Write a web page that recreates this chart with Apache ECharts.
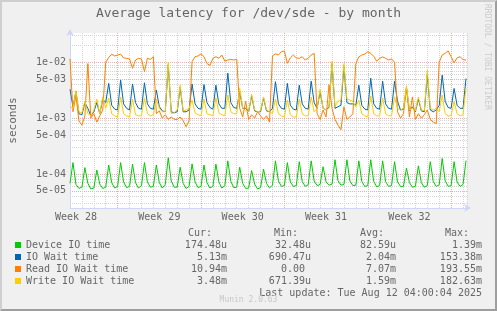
<!DOCTYPE html>
<html>
<head>
<meta charset="utf-8">
<script src="https://cdn.jsdelivr.net/npm/echarts/dist/echarts.min.js"></script>
<style>
  html, body { margin: 0; padding: 0; background: #F0F0F0; }
  #wrap { position: relative; width: 497px; height: 311px; }
  #chart { width: 497px; height: 311px; }
  #frame {
    position: absolute; left: 0; top: 0; width: 497px; height: 311px;
    box-sizing: border-box; border: 2px solid;
    border-color: #CFCFCF #9E9E9E #9E9E9E #CFCFCF; pointer-events: none;
  }
</style>
</head>
<body>
<div id="wrap"><div id="chart"></div><div id="frame"></div></div>
<script>
// one sample every 6 hours, x counted in days from the left edge of the plot
const stepDays = 0.25;
const spanDays = 400 / 12;

const weekLabels = ['Week 28', 'Week 29', 'Week 30', 'Week 31', 'Week 32'];
const weekLabelAt = [0.5, 7.5, 14.5, 21.5, 28.5];
const weekStarts = [4, 11, 18, 25, 32];

const yMin = 2.46e-5;
const yMax = 0.0335;
const yMajor = [5e-5, 1e-4, 5e-4, 1e-3, 5e-3, 1e-2];
const yMinor = [3e-5, 4e-5, 6e-5, 7e-5, 8e-5, 9e-5, 2e-4, 3e-4, 4e-4, 6e-4, 7e-4, 8e-4, 9e-4,
  2e-3, 3e-3, 4e-3, 6e-3, 7e-3, 8e-3, 9e-3, 2e-2, 3e-2];

const seriesNames = ['Device IO time', 'IO Wait time', 'Read IO Wait time', 'Write IO Wait time'];
const seriesColors = ['#00CC00', '#0066B3', '#FF8000', '#FFCC00'];

// legend table
const curText = ['174.48u', '5.13m', '10.94m', '3.48m'];
const minText = ['32.48u', '690.47u', '0.00', '671.39u'];
const avgText = ['82.59u', '2.04m', '7.07m', '1.59m'];
const maxText = ['1.39m', '153.38m', '193.55m', '182.63m'];

// Device IO time (s), 4 samples a day
const deviceIO = [
  6.8e-5, 1.6e-4, 6.5e-5, 5.5e-5,   5.8e-5, 1.3e-4, 6.8e-5, 5.4e-5,   5.6e-5, 1.18e-4, 6.6e-5, 5.5e-5,
  5.8e-5, 1.45e-4, 7e-5, 5.6e-5,    6e-5, 1.6e-4, 7.2e-5, 5.7e-5,     6e-5, 1.5e-4, 7e-5, 5.6e-5,
  6.2e-5, 1.6e-4, 7.2e-5, 5.8e-5,   6e-5, 1.45e-4, 7e-5, 5.6e-5,      6.5e-5, 1.95e-4, 7.5e-5, 5.8e-5,
  5.8e-5, 1.32e-4, 6.8e-5, 5.5e-5,  6e-5, 1.52e-4, 7.2e-5, 5.7e-5,    6e-5, 1.45e-4, 7e-5, 5.6e-5,
  6e-5, 1.5e-4, 7.2e-5, 5.6e-5,     6.2e-5, 1.72e-4, 7.4e-5, 5.7e-5,  5.8e-5, 1.32e-4, 6.8e-5, 5.5e-5,
  5.6e-5, 1.15e-4, 6.6e-5, 5.4e-5,  5.7e-5, 1.22e-4, 6.8e-5, 5.6e-5,  6.3e-5, 1.72e-4, 7.5e-5, 6e-5,
  6.2e-5, 1.6e-4, 7.2e-5, 6e-5,     6.2e-5, 1.66e-4, 7.3e-5, 6e-5,    6.4e-5, 1.72e-4, 7.5e-5, 6.2e-5,
  6.5e-5, 1.35e-4, 7.2e-5, 6.3e-5,  6.6e-5, 1.8e-4, 7.6e-5, 6.3e-5,   6.5e-5, 1.8e-4, 7.5e-5, 6.2e-5,
  6.3e-5, 1.72e-4, 7.4e-5, 6e-5,    6.2e-5, 1.8e-4, 7.4e-5, 5.9e-5,   6.2e-5, 1.72e-4, 7.3e-5, 6e-5,
  6.2e-5, 1.66e-4, 7.2e-5, 6e-5,    6e-5, 1.27e-4, 7e-5, 5.8e-5,      6e-5, 1.4e-4, 7e-5, 5.8e-5,
  6.2e-5, 1.66e-4, 7.3e-5, 6e-5,    6.4e-5, 1.9e-4, 7.6e-5, 6e-5,     6.2e-5, 1.66e-4, 7.2e-5, 6e-5,
  6.5e-5, 1.74e-4
];

// IO Wait time (s)
const ioWait = [
  3.3e-3,
  1.6e-3, 3.0e-3, 1.2e-3, 1.15e-3, 1.9e-3, 1.5e-3, 1.1e-3, 1.3e-3, 1.9e-3, 1.2e-3, 2.2e-3,
  1.9e-3, 4.2e-3, 1.7e-3, 1.45e-3, 1.4e-3, 4.8e-3, 1.8e-3, 1.5e-3, 1.4e-3, 4.1e-3, 1.9e-3, 1.5e-3,
  1.45e-3, 4.3e-3, 1.8e-3, 1.5e-3, 1.45e-3,
  3.2e-3, 1.6e-3, 1.35e-3, 1.3e-3, 9e-3, 1.3e-3, 1.25e-3, 1.3e-3, 3.6e-3, 1.3e-3, 1.3e-3, 1.4e-3,
  4.1e-3, 1.8e-3, 1.5e-3, 1.45e-3, 4.0e-3, 1.9e-3, 1.55e-3, 1.45e-3, 3.9e-3, 1.8e-3, 1.5e-3, 1.5e-3,
  6.4e-3, 1.9e-3, 1.55e-3, 1.5e-3,
  3.0e-3, 1.5e-3, 1.5e-3, 1.3e-3, 2.5e-3, 1.35e-3, 1.3e-3, 1.3e-3, 2.3e-3, 1.35e-3, 1.3e-3,
  1.5e-3, 4.5e-3, 1.8e-3, 1.5e-3, 1.45e-3, 4.2e-3, 1.7e-3, 1.45e-3, 1.4e-3, 3.9e-3, 1.8e-3, 1.5e-3,
  1.45e-3, 4.6e-3, 1.9e-3,
  1.5e-3, 3.0e-3, 1.5e-3, 1.4e-3, 1.6e-3, 9.5e-3, 1.5e-3, 1.6e-3, 1.7e-3, 8.5e-3, 1.9e-3, 1.8e-3, 1.8e-3,
  1.7e-3, 3.9e-3, 1.7e-3, 1.45e-3, 1.4e-3, 5.2e-3, 1.8e-3, 1.5e-3, 1.45e-3, 4.6e-3, 1.8e-3, 1.5e-3,
  1.45e-3, 4.6e-3,
  2.0e-3, 1.4e-3, 1.45e-3, 3.5e-3, 1.35e-3, 1.6e-3, 1.3e-3, 2.2e-3, 1.35e-3, 1.3e-3, 6.0e-3, 1.4e-3,
  1.3e-3, 1.4e-3,
  1.7e-3, 5.9e-3, 2.0e-3, 1.55e-3, 1.5e-3, 3.4e-3, 1.7e-3, 1.5e-3, 1.5e-3, 5.13e-3
];

// Read IO Wait time (s)
const readWait = [
  1.15e-2,
  1.3e-3, 2.5e-3, 9e-4, 7.5e-4, 1.1e-3, 9.5e-3, 1.0e-3, 1.2e-3, 8.5e-4, 1.1e-3, 1.4e-3,
  1.0e-2, 1.22e-2, 1.4e-2, 1.3e-2, 1.35e-2, 1.4e-2, 1.2e-2, 1.18e-2, 1.15e-2, 7.8e-3, 1.1e-2, 1.18e-2,
  1.15e-2, 6.8e-3, 1.18e-2, 1.13e-2, 1.26e-2,
  1.2e-3, 1.35e-3, 1.0e-3, 1.15e-3, 9.5e-4, 1.05e-3, 9.5e-4, 9.5e-4, 1.05e-3, 9e-4, 7e-4, 9e-4,
  1.03e-2, 1.26e-2, 1.3e-2, 1.42e-2, 1.26e-2, 9.5e-3, 8.8e-3, 1.18e-2, 1.26e-2, 1.18e-2, 1.35e-2, 1.05e-2,
  1.1e-2, 1.13e-2, 1.1e-2, 1.13e-2,
  1.5e-3, 1.05e-3, 2.0e-3, 9.5e-4, 1.15e-3, 1.0e-3, 1.3e-3, 1.1e-3, 9.5e-4, 1.1e-3, 8.5e-4,
  1.3e-2, 1.42e-2, 1.35e-2, 1.55e-2, 1.6e-2, 9.6e-3, 1.2e-2, 1.35e-2, 1.2e-2, 1.18e-2, 1.26e-2, 1.1e-2,
  1.18e-2, 1.35e-2, 1.45e-2,
  1.2e-3, 9.5e-4, 1.4e-3, 1.05e-3, 4.0e-3, 1.5e-3, 9.5e-4, 7.5e-4, 6.2e-4, 1.6e-3, 9.5e-4, 1.05e-3, 1.2e-3,
  9.5e-3, 1.25e-2, 1.35e-2, 1.4e-2, 1.55e-2, 1.45e-2, 1.28e-2, 1.05e-2, 1.18e-2, 1.25e-2, 1.18e-2, 1.1e-2,
  1.15e-2, 1.0e-2,
  1.3e-3, 1.0e-3, 1.2e-3, 3.5e-3, 1.05e-3, 2.4e-3, 9.5e-4, 1.2e-3, 1.0e-3, 1.15e-3, 1.4e-3, 9.5e-4,
  8.5e-4, 8e-4,
  1.0e-2, 1.35e-2, 1.45e-2, 1.6e-2, 1.26e-2, 9.8e-3, 1.2e-2, 1.26e-2, 1.12e-2, 1.094e-2
];

// Write IO Wait time (s)
const writeWait = [
  1.6e-3,
  1.5e-3, 3.1e-3, 1.3e-3, 1.25e-3, 2.0e-3, 1.2e-3, 1.1e-3, 1.4e-3, 2.2e-3, 1.2e-3, 2.4e-3,
  1.5e-3, 2.3e-3, 1.2e-3, 1.1e-3, 1.05e-3, 2.4e-3, 1.2e-3, 1.1e-3, 1.05e-3, 2.2e-3, 1.15e-3, 1.1e-3,
  1.1e-3, 2.3e-3, 1.2e-3, 1.1e-3, 1.15e-3,
  2.2e-3, 1.5e-3, 1.3e-3, 1.3e-3, 1.0e-2, 1.2e-3, 1.25e-3, 1.4e-3, 3.9e-3, 1.35e-3, 1.4e-3, 1.5e-3,
  2.1e-3, 1.25e-3, 1.15e-3, 1.1e-3, 2.2e-3, 1.2e-3, 1.15e-3, 1.1e-3, 2.3e-3, 1.25e-3, 1.15e-3, 1.1e-3,
  2.6e-3, 1.3e-3, 1.2e-3, 1.2e-3,
  3.4e-3, 1.5e-3, 1.35e-3, 1.3e-3, 2.7e-3, 1.4e-3, 1.3e-3, 1.35e-3, 2.4e-3, 1.4e-3, 1.3e-3,
  1.2e-3, 2.2e-3, 1.2e-3, 1.1e-3, 1.05e-3, 2.1e-3, 1.15e-3, 1.05e-3, 1.05e-3, 2.2e-3, 1.2e-3, 1.1e-3,
  1.1e-3, 2.4e-3, 1.3e-3,
  1.5e-3, 3.3e-3, 1.5e-3, 1.4e-3, 1.5e-3, 1.05e-2, 1.6e-3, 2.0e-3, 2.1e-3, 9.5e-3, 2.2e-3, 2.1e-3, 2.0e-3,
  1.6e-3, 2.1e-3, 1.2e-3, 1.1e-3, 1.05e-3, 2.5e-3, 1.2e-3, 1.1e-3, 1.1e-3, 2.3e-3, 1.2e-3, 1.1e-3,
  1.1e-3, 2.4e-3,
  1.5e-3, 1.4e-3, 1.5e-3, 3.8e-3, 1.4e-3, 1.5e-3, 1.35e-3, 2.4e-3, 1.4e-3, 1.35e-3, 7.2e-3, 1.5e-3,
  1.4e-3, 1.5e-3,
  1.3e-3, 2.6e-3, 1.2e-3, 1.1e-3, 1.1e-3, 2.0e-3, 1.2e-3, 1.1e-3, 1.15e-3, 3.48e-3
];

const allValues = [deviceIO, ioWait, readWait, writeWait];

const mono = 'DejaVu Sans Mono';
const fontColor = '#666666';
const axisColor = '#CFD6F8';
const gridColor = '#D4D4D4';
const mgridColor = '#E8B0B0';

// 1e-02 style labels like rrdtool
function sci(v) {
  const parts = v.toExponential(0).split('e');
  const e = +parts[1];
  return parts[0] + 'e' + (e < 0 ? '-' : '+') + String(Math.abs(e)).padStart(2, '0');
}
// rrdtool prints a blank where the unit would go
const unitPad = s => (/[0-9]$/.test(s) ? s + ' ' : s);

const txt = { fontFamily: mono, fontSize: 10, fontWeight: 'normal', color: fontColor, lineHeight: 12 };

const chart = echarts.init(document.getElementById('chart'));
chart.setOption({
  backgroundColor: '#F0F0F0',
  animation: false,
  color: seriesColors,
  title: [
    {
      text: 'Average latency for /dev/sde - by month',
      left: 'center', top: 7, padding: 0,
      textStyle: { fontFamily: mono, fontSize: 13, fontWeight: 'normal', color: fontColor }
    },
    {
      text: '{p| }{c|Cur:}{m|Min:}{a|Avg:}{x|Max:}',
      left: 26, top: 227, padding: 0,
      textStyle: Object.assign({}, txt, {
        rich: {
          p: Object.assign({ width: 126 }, txt),
          c: Object.assign({ width: 60, align: 'right' }, txt),
          m: Object.assign({ width: 86, align: 'right' }, txt),
          a: Object.assign({ width: 86, align: 'right' }, txt),
          x: Object.assign({ width: 85, align: 'right' }, txt)
        }
      })
    },
    {
      text: 'Last update: Tue Aug 12 04:00:04 2025',
      right: 15, top: 287, padding: 0,
      textStyle: txt
    },
    {
      text: 'Munin 2.0.63',
      left: 'center', top: 296, padding: 0,
      textStyle: { fontFamily: mono, fontSize: 8, fontWeight: 'normal', color: '#C8C8C8' }
    }
  ],
  legend: {
    orient: 'vertical', left: 15, top: 239, padding: 0,
    itemWidth: 6, itemHeight: 6, itemGap: 0, icon: 'rect',
    selectedMode: false,
    data: seriesNames,
    formatter: name => {
      const k = seriesNames.indexOf(name);
      return '{n|' + name + '}{c|' + unitPad(curText[k]) + '}{m|' + unitPad(minText[k]) +
        '}{a|' + unitPad(avgText[k]) + '}{x|' + unitPad(maxText[k]) + '}';
    },
    textStyle: Object.assign({}, txt, {
      rich: {
        n: Object.assign({ width: 141 }, txt),
        c: Object.assign({ width: 60, align: 'right' }, txt),
        m: Object.assign({ width: 84, align: 'right' }, txt),
        a: Object.assign({ width: 85, align: 'right' }, txt),
        x: Object.assign({ width: 86, align: 'right' }, txt)
      }
    })
  },
  graphic: [{
    type: 'text', x: 487, y: 4, rotation: -Math.PI / 2,
    style: { text: 'RRDTOOL / TOBI OETIKER', fontFamily: mono, fontSize: 8, fill: '#CCCCCC',
      textAlign: 'left', textVerticalAlign: 'middle' }
  }],
  grid: { left: 67, top: 33, width: 400, height: 175, show: true, backgroundColor: '#FFFFFF', borderWidth: 0 },
  xAxis: [
    {
      type: 'value', min: 0, max: spanDays, interval: 1, position: 'bottom',
      axisLine: { show: true, onZero: false, lineStyle: { color: axisColor },
        symbol: ['none', 'arrow'], symbolSize: [6, 7], symbolOffset: [0, 4] },
      axisTick: { show: false }, axisLabel: { show: false },
      splitLine: { show: true, lineStyle: { color: gridColor, type: [1, 1] } }
    },
    {
      type: 'value', min: 0, max: spanDays, position: 'bottom',
      axisLine: { show: false },
      axisTick: { show: false, customValues: weekStarts },
      axisLabel: {
        customValues: weekLabelAt, margin: 4,
        fontFamily: mono, fontSize: 10, color: fontColor,
        formatter: v => weekLabels[weekLabelAt.indexOf(v)]
      },
      splitLine: { show: true, lineStyle: { color: mgridColor, type: [1, 1] } }
    }
  ],
  yAxis: [
    {
      type: 'log', logBase: 10, min: yMin, max: yMax,
      name: 'seconds', nameLocation: 'middle', nameRotate: 90, nameGap: 51,
      nameTextStyle: { fontFamily: mono, fontSize: 11, color: fontColor },
      axisLine: { show: true, onZero: false, lineStyle: { color: axisColor },
        symbol: ['none', 'arrow'], symbolSize: [6, 7], symbolOffset: [0, 4] },
      axisTick: { show: false, customValues: yMajor },
      axisLabel: { customValues: yMajor, formatter: sci, margin: 4,
        fontFamily: mono, fontSize: 10, color: fontColor },
      splitLine: { show: true, lineStyle: { color: mgridColor, type: [1, 1] } }
    },
    {
      type: 'log', logBase: 10, min: yMin, max: yMax, position: 'left',
      axisLine: { show: false },
      axisTick: { show: false, customValues: yMinor },
      axisLabel: { show: false },
      splitLine: { show: true, lineStyle: { color: gridColor, type: [1, 1] } }
    }
  ],
  series: seriesNames.map((name, k) => ({
    name: name,
    type: 'line',
    xAxisIndex: 0,
    yAxisIndex: 0,
    showSymbol: false,
    symbol: 'none',
    lineStyle: { width: 1, color: seriesColors[k] },
    itemStyle: { color: seriesColors[k] },
    data: allValues[k].map((v, i) => [i * stepDays, v])
  }))
});
</script>
</body>
</html>
